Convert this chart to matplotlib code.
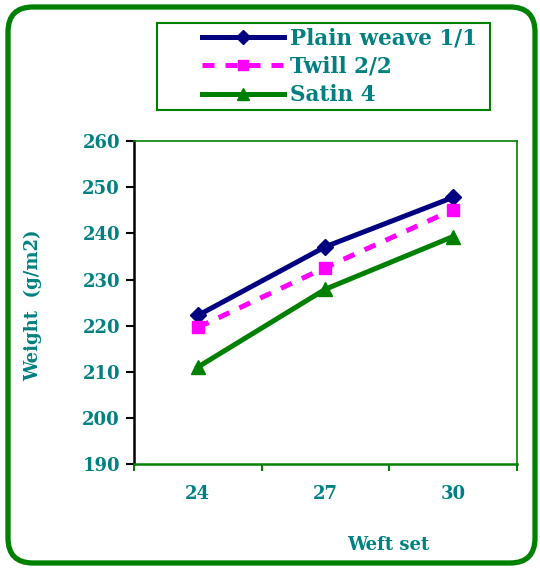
import matplotlib.pyplot as plt
import numpy as np
from matplotlib.patches import FancyBboxPatch, Rectangle

weft_set = ['24', '27', '30']
plain_weave = [222.2, 237.1, 247.8]
twill = [219.6, 232.6, 245.1]
satin = [211.0, 227.9, 239.3]

teal = '#008080'
green = '#008000'

plt.rcParams['font.family'] = 'DejaVu Serif'
plt.rcParams['font.weight'] = 'bold'

fig = plt.figure(figsize=(5.4, 5.69), dpi=100)
ax = fig.add_axes([0.248, 0.1845, 0.709, 0.5675])

x = np.arange(len(weft_set))
ax.plot(x, plain_weave, color='#000080', lw=3.6, marker='D', ms=8.5,
        label='Plain weave 1/1', zorder=3)
ax.plot(x, twill, color='#ff00ff', lw=3.6, ls=(0, (2.4, 2.2)), marker='s', ms=9,
        label='Twill 2/2', zorder=3)
ax.plot(x, satin, color=green, lw=3.6, marker='^', ms=10.5,
        label='Satin 4', zorder=3)

ax.set_xlim(-0.5, 2.5)
ax.set_ylim(190, 260)
ax.set_yticks(np.arange(190, 261, 10))
ax.set_xticks(x)
ax.set_xticklabels(weft_set)
ax.set_xticks([-0.5, 0.5, 1.5, 2.5], minor=True)

ax.tick_params(axis='y', direction='out', length=6, width=1.5, color='black',
               labelcolor=teal, labelsize=13, pad=4)
ax.tick_params(axis='x', which='major', length=0, labelcolor=teal,
               labelsize=13, pad=15)
ax.tick_params(axis='x', which='minor', direction='out', length=5, width=1.5,
               color=green)

for s in ['top', 'right', 'bottom']:
    ax.spines[s].set_color(green)
    ax.spines[s].set_linewidth(1.2)
ax.spines['bottom'].set_linewidth(1.8)
ax.spines['left'].set_color('black')
ax.spines['left'].set_linewidth(1.8)

fig.text(33 / 540, 1 - 305 / 569, 'Weight  (g/m2)', rotation=90, color=teal,
         fontsize=13, fontweight='bold', ha='center', va='center')
fig.text(388 / 540, 1 - 545 / 569, 'Weft set', color=teal, fontsize=13,
         fontweight='bold', ha='center', va='center')

# legend box
fig.add_artist(Rectangle((157 / 540, 1 - 110 / 569), 333 / 540, 87 / 569,
                         transform=fig.transFigure, fill=False, ec=green, lw=1.5))
leg = fig.legend(loc='upper left', bbox_to_anchor=(199 / 540, 1 - 24 / 569),
                 frameon=False, handlelength=3.8, borderaxespad=0,
                 labelspacing=0.3, handletextpad=0.3, borderpad=0.15,
                 prop={'size': 15.5, 'weight': 'bold'}, markerscale=0.8)
for t in leg.get_texts():
    t.set_color(teal)

# rounded outer border
border = FancyBboxPatch((0.08, 0.06), 5.27, 5.56,
                        boxstyle='round,pad=0,rounding_size=0.25',
                        transform=fig.dpi_scale_trans, fill=False,
                        ec=green, lw=3.8)
fig.add_artist(border)

fig.savefig('out.png', dpi=100)
